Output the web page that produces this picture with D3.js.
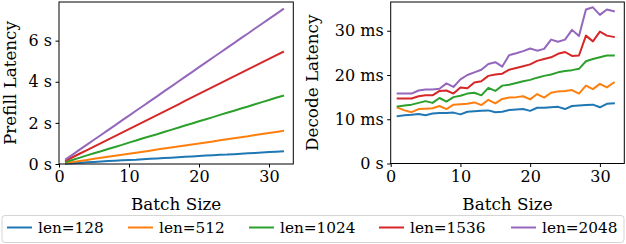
<!DOCTYPE html>
<html><head><meta charset="utf-8">
<script src="https://cdn.jsdelivr.net/npm/d3@7"></script>
<style>
html,body{margin:0;padding:0;background:#fff;}
svg{display:block;}
text{font-family:"DejaVu Serif",serif;fill:#000;}
</style></head>
<body>
<svg id="chart" width="626" height="244"></svg>
<script>
const batchSizes = d3.range(1, 33);
const seriesNames = ["len=128", "len=512", "len=1024", "len=1536", "len=2048"];
const colors = ["#1f77b4", "#ff7f0e", "#2ca02c", "#d62728", "#9467bd"];

// Prefill latency (s)
const prefill128 = [0.02,0.04,0.06,0.08,0.10,0.12,0.14,0.16,0.18,0.20,0.21,0.23,0.25,0.27,0.29,0.31,0.33,0.35,0.37,0.39,0.41,0.43,0.45,0.46,0.48,0.50,0.52,0.54,0.56,0.58,0.60,0.62];
const prefill512 = [0.05,0.10,0.15,0.20,0.25,0.30,0.35,0.40,0.45,0.50,0.55,0.60,0.65,0.70,0.75,0.80,0.85,0.90,0.95,1.00,1.05,1.10,1.15,1.20,1.25,1.30,1.35,1.41,1.46,1.51,1.56,1.61];
const prefill1024 = [0.10,0.21,0.31,0.42,0.52,0.62,0.73,0.83,0.93,1.04,1.14,1.25,1.35,1.45,1.56,1.66,1.76,1.87,1.97,2.08,2.18,2.28,2.39,2.49,2.59,2.70,2.80,2.91,3.01,3.11,3.22,3.32];
const prefill1536 = [0.17,0.34,0.51,0.68,0.85,1.02,1.19,1.36,1.53,1.70,1.87,2.04,2.21,2.38,2.55,2.72,2.89,3.07,3.24,3.41,3.58,3.75,3.92,4.09,4.26,4.43,4.60,4.77,4.94,5.11,5.28,5.45];
const prefill2048 = [0.24,0.47,0.71,0.94,1.18,1.41,1.65,1.88,2.12,2.35,2.59,2.82,3.06,3.29,3.53,3.76,4.00,4.24,4.47,4.71,4.94,5.18,5.41,5.65,5.88,6.12,6.35,6.59,6.82,7.06,7.29,7.53];

// Decode latency (ms)
const decode128 = [10.7,10.9,11.0,11.2,10.9,11.3,11.4,11.4,11.5,11.1,11.7,11.8,11.9,12.0,11.6,11.7,12.1,12.2,12.3,11.9,12.6,12.6,12.7,12.8,12.3,13.0,13.1,13.2,13.3,12.7,13.5,13.6];
const decode512 = [12.6,12.0,11.6,12.3,12.4,12.5,13.0,12.3,13.3,13.4,13.5,13.8,13.2,14.4,13.6,14.6,14.9,15.0,15.2,14.5,15.7,14.9,16.0,16.3,16.4,16.6,15.8,17.6,16.8,18.0,17.2,18.3];
const decode1024 = [12.9,13.1,13.3,13.7,14.1,13.7,14.8,14.0,15.0,15.3,15.8,16.0,15.4,17.1,16.4,17.6,17.8,18.2,18.6,18.9,19.4,19.8,20.1,20.6,20.9,21.1,21.4,23.1,23.6,24.0,24.4,24.4];
const decode1536 = [14.7,14.7,14.7,15.2,15.4,15.4,16.4,16.5,15.8,17.2,17.0,18.3,18.6,19.8,20.1,20.3,21.2,21.6,22.0,22.4,23.2,23.6,24.0,24.8,25.2,24.3,24.4,28.9,27.6,29.8,28.9,28.6];
const decode2048 = [15.8,15.8,15.8,16.5,16.7,16.7,16.9,18.1,17.3,19.0,20.0,20.6,21.2,22.5,22.9,21.9,24.5,24.9,25.4,26.0,25.5,25.9,28.0,27.5,28.0,30.2,28.8,34.8,35.3,33.6,34.8,34.4];

const xTicks = [0, 10, 20, 30];
const prefillTicks = [0, 2, 4, 6];
const prefillTickLabels = ["0 s", "2 s", "4 s", "6 s"];
const decodeTicks = [0, 10, 20, 30];
const decodeTickLabels = ["0 s", "10 ms", "20 ms", "30 ms"];

const prefillSeries = [prefill128, prefill512, prefill1024, prefill1536, prefill2048];
const decodeSeries = [decode128, decode512, decode1024, decode1536, decode2048];

const svg = d3.select("#chart");
const TICK_FS = 16, LABEL_FS = 16.8, LEGEND_FS = 15.3;

function panel(opt) {
  const x = d3.scaleLinear().domain([0, opt.xmax]).range([opt.left, opt.right]);
  const y = d3.scaleLinear().domain([0, opt.ymax]).range([opt.bottom, opt.top]);
  const g = svg.append("g");
  const line = d3.line().x((d, i) => x(batchSizes[i])).y(d => y(d));
  opt.series.forEach((s, k) => {
    g.append("path").datum(s).attr("d", line)
      .attr("fill", "none").attr("stroke", colors[k]).attr("stroke-width", 2)
      .attr("stroke-linejoin", "round").attr("stroke-linecap", "square");
  });
  // frame
  g.append("rect").attr("x", opt.left).attr("y", opt.top)
    .attr("width", opt.right - opt.left).attr("height", opt.bottom - opt.top)
    .attr("fill", "none").attr("stroke", "#000").attr("stroke-width", 1);
  const xa = g.append("g").attr("transform", `translate(0,${opt.bottom})`)
    .call(d3.axisBottom(x).tickValues(xTicks).tickSize(3.5).tickPadding(3.5).tickFormat(d3.format("d")));
  const ya = g.append("g").attr("transform", `translate(${opt.left},0)`)
    .call(d3.axisLeft(y).tickValues(opt.yTicks).tickSize(3.5).tickPadding(3.5)
      .tickFormat((d, i) => opt.yLabels[i]));
  [xa, ya].forEach(a => {
    a.select(".domain").remove();
    a.selectAll("text").attr("font-family", "DejaVu Serif").attr("font-size", TICK_FS).attr("fill", "#000");
    a.selectAll("line").attr("stroke", "#000").attr("stroke-width", 1);
  });
  g.append("text").attr("x", (opt.left + opt.right) / 2).attr("y", 210)
    .attr("text-anchor", "middle").attr("font-size", LABEL_FS).text("Batch Size");
  g.append("text")
    .attr("transform", `translate(${opt.ylabX},${(opt.top + opt.bottom) / 2}) rotate(-90)`)
    .attr("text-anchor", "middle").attr("font-size", LABEL_FS).text(opt.ylabel);
}

panel({left: 59, right: 293.3, top: 2, bottom: 164, xmax: 33.47, ymax: 7.88,
  series: prefillSeries, yTicks: prefillTicks, yLabels: prefillTickLabels,
  ylabel: "Prefill Latency", ylabX: 15.5});
panel({left: 390.7, right: 624.3, top: 2, bottom: 163.5, xmax: 33.5, ymax: 36.5,
  series: decodeSeries, yTicks: decodeTicks, yLabels: decodeTickLabels,
  ylabel: "Decode Latency", ylabX: 318});

// legend
const lg = svg.append("g");
lg.append("rect").attr("x", 2).attr("y", 215.5).attr("width", 622).attr("height", 27)
  .attr("rx", 3).attr("fill", "#fff").attr("fill-opacity", 0.8)
  .attr("stroke", "#d5d5d5").attr("stroke-width", 1);
const handleX = [7, 128, 249, 379, 511];
seriesNames.forEach((n, k) => {
  lg.append("line").attr("x1", handleX[k]).attr("x2", handleX[k] + 25)
    .attr("y1", 227.5).attr("y2", 227.5).attr("stroke", colors[k]).attr("stroke-width", 2);
  lg.append("text").attr("x", handleX[k] + 31).attr("y", 233.3)
    .attr("font-size", LEGEND_FS).text(n);
});
</script>
</body></html>
